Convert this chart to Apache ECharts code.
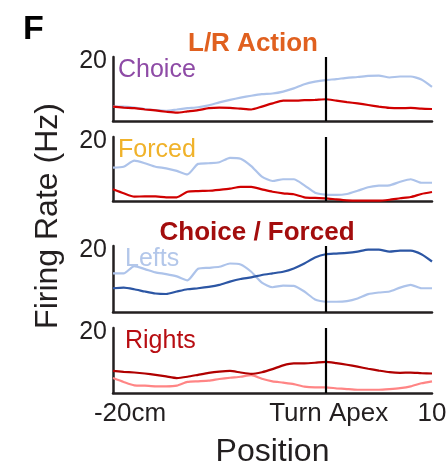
<!DOCTYPE html>
<html>
<head>
<meta charset="utf-8">
<script src="https://cdn.jsdelivr.net/npm/echarts@6/dist/echarts.min.js"></script>
<style>
html,body{margin:0;padding:0;background:#fff;}
#chart{width:448px;height:465px;}
</style>
</head>
<body>
<div id="chart"></div>
<script>
// Position along the track (cm relative to turn apex)
const positions = [-20,-19,-18,-17,-16,-15,-14,-13,-12,-11,-10,-9,-8,-7,-6,-5,-4,-3,-2,-1,0,1,2,3,4,5,6,7,8,9,10];

// Panel 1: L/R Action - Choice
const choiceLeft  = [4.5,4.5,4.2,3.75,3.4,3.2,3.6,4.0,4.3,4.9,5.8,6.6,7.3,7.9,8.4,8.6,9.2,10.2,11.5,12.3,12.8,13.1,13.5,13.75,14.1,14.2,13.6,13.9,13.9,13.0,10.7];
const choiceRight = [4.5,4.2,4.0,3.6,3.3,2.9,2.6,3.0,3.4,4.0,4.2,4.1,3.85,3.6,4.5,5.5,6.35,6.35,6.5,6.6,6.8,6.35,5.9,5.5,5.0,4.5,4.1,4.0,4.1,3.85,3.75];
// Panel 2: L/R Action - Forced
const forcedLeft  = [10.4,10.7,12.6,11.8,10.7,10.2,9.4,8.3,11.6,11.8,12.1,13.5,13.2,10.9,7.6,6.25,6.8,6.8,4.9,2.6,2.0,1.9,2.2,3.2,4.3,4.8,4.9,6.0,6.8,5.7,5.7];
const forcedRight = [3.65,2.4,1.35,1.45,1.45,1.15,1.15,2.9,3.1,3.2,3.5,3.85,4.4,4.4,3.65,2.9,2.4,2.1,1.15,0.95,0.85,0.5,0.2,0.1,0.1,0.1,0.4,0.85,1.25,2.2,2.8];
// Panel 3: Choice / Forced - Lefts
const leftsChoice = [7.2,7.4,6.9,6.2,5.6,5.45,6.2,6.9,7.2,7.6,8.2,9.2,10.0,10.5,11.2,11.7,12.2,13.2,14.7,16.5,17.5,17.7,17.9,18.3,18.9,18.9,18.3,18.6,18.6,17.5,15.3];
const leftsForced = [11.7,11.7,13.9,13.0,12.0,11.5,10.8,9.6,13.1,13.4,13.7,14.7,14.4,12.2,8.9,7.5,8.0,7.9,6.2,3.8,3.1,3.1,3.3,4.1,5.4,5.9,6.2,7.4,8.2,7.2,7.2];
// Panel 4: Choice / Forced - Rights
const rightsChoice = [6.8,6.5,6.3,6.0,5.6,5.1,4.6,5.0,5.6,6.2,6.6,6.8,6.3,5.9,6.4,7.35,8.5,9.1,9.1,9.3,9.6,9.2,8.7,8.1,7.45,6.9,6.4,6.2,6.3,6.1,6.0];
const rightsForced = [4.6,3.4,2.35,2.25,2.05,2.05,2.25,3.4,3.6,3.8,4.3,4.7,5.0,5.5,4.4,3.6,3.2,2.75,1.95,1.75,1.75,1.45,1.2,1.0,1.0,1.0,1.2,1.5,2.05,3.0,3.6];

// Axis ticks / labels
const xTickValues = [-20, 0, 10];
const xTickLabels = ['-20cm', 'Turn Apex', '10'];
const yMin = 0, yMax = 20;

const FONT = '"Liberation Sans", Arial, sans-serif';
const INK = '#231f20';

const panels = [
  {label: 'Choice', labelColor: '#8e4ba6', top: 57, height: 64,
   series: [{d: choiceLeft, c: '#adc3ea'}, {d: choiceRight, c: '#d00000'}]},
  {label: 'Forced', labelColor: '#f0b22a', top: 137, height: 64,
   series: [{d: forcedLeft, c: '#adc3ea'}, {d: forcedRight, c: '#d00000'}]},
  {label: 'Lefts', labelColor: '#b3c7ea', top: 246, height: 66,
   series: [{d: leftsForced, c: '#adc3ea'}, {d: leftsChoice, c: '#2c56a4'}]},
  {label: 'Rights', labelColor: '#b80d12', top: 328, height: 65,
   series: [{d: rightsForced, c: '#ff8585'}, {d: rightsChoice, c: '#b00000'}]}
];

const grids = [], xAxes = [], yAxes = [], series = [];
panels.forEach((p, i) => {
  grids.push({left: 113, right: 16, top: p.top, height: p.height, containLabel: false, outerBoundsMode: 'none'});
  const last = i === panels.length - 1;
  xAxes.push({
    type: 'value', gridIndex: i, min: -20, max: 10,
    axisLine: {show: true, onZero: false, lineStyle: {color: INK, width: 2.5}},
    axisTick: {show: false}, splitLine: {show: false},
    axisLabel: last ? {
      show: true, customValues: xTickValues, margin: 8, hideOverlap: false,
      fontFamily: FONT, fontSize: 26, color: INK,
      formatter: v => {
        const k = xTickValues.indexOf(v);
        const key = ['a', 'b', 'c'][k];
        return '{' + key + '|' + xTickLabels[k] + '}';
      },
      rich: {
        a: {fontFamily: FONT, fontSize: 26, color: INK, padding: [0, 0, 0, 34]},
        b: {fontFamily: FONT, fontSize: 26, color: INK, padding: [0, 0, 0, 6]},
        c: {fontFamily: FONT, fontSize: 26, color: INK}
      }
    } : {show: false},
    name: last ? 'Position' : '',
    nameLocation: 'middle', nameGap: 43,
    nameTextStyle: {fontFamily: FONT, fontSize: 32, color: INK}
  });
  yAxes.push({
    type: 'value', gridIndex: i, min: yMin, max: yMax, interval: 20,
    axisLine: {show: true, onZero: false, lineStyle: {color: INK, width: 2.5}},
    axisTick: {show: false}, splitLine: {show: false},
    axisLabel: {show: true, showMinLabel: false, margin: 6,
      fontFamily: FONT, fontSize: 25, color: INK,
      formatter: v => v === yMax ? '{t|' + yMax + '}' : '',
      rich: {t: {fontFamily: FONT, fontSize: 25, color: INK, padding: [8, 0, 0, 0]}}}
  });
  p.series.forEach((s, j) => {
    series.push({
      type: 'line', xAxisIndex: i, yAxisIndex: i,
      data: positions.map((x, k) => [x, s.d[k]]),
      showSymbol: false, smooth: 0.2, silent: true,
      lineStyle: {color: s.c, width: 2.2},
      z: 2 + j,
      markLine: j === 0 ? {
        silent: true, symbol: 'none', animation: false,
        label: {show: false},
        lineStyle: {color: '#000', width: 2.2, type: 'solid'},
        data: [{xAxis: 0}]
      } : undefined
    });
  });
});

const titles = [
  {text: 'F', left: 18, top: 8, textStyle: {fontFamily: FONT, fontSize: 34, fontWeight: 'bold', color: '#000'}},
  {text: 'L/R Action', left: 248, textAlign: 'center', top: 26, textStyle: {fontFamily: FONT, fontSize: 26, fontWeight: 'bold', color: '#e0601f'}},
  {text: 'Choice / Forced', left: 252, textAlign: 'center', top: 215, textStyle: {fontFamily: FONT, fontSize: 26, fontWeight: 'bold', color: '#a30d0d'}}
];
panels.forEach(p => {
  titles.push({text: p.label, left: p.label === 'Choice' || p.label === 'Forced' ? 113 : 120, top: p.top + 1,
    padding: [0, 5, 0, 5],
    textStyle: {fontFamily: FONT, fontSize: 25, fontWeight: 'normal', color: p.labelColor}});
});

const chart = echarts.init(document.getElementById('chart'), null, {renderer: 'canvas'});
chart.setOption({
  animation: false,
  backgroundColor: '#fff',
  title: titles,
  grid: grids,
  xAxis: xAxes,
  yAxis: yAxes,
  series: series,
  graphic: [{
    type: 'text', x: 48, y: 216, rotation: Math.PI / 2,
    style: {text: 'Firing Rate (Hz)', fontFamily: FONT, fontSize: 32, fill: INK,
      textAlign: 'center', textVerticalAlign: 'middle'}
  }]
});
</script>
</body>
</html>
